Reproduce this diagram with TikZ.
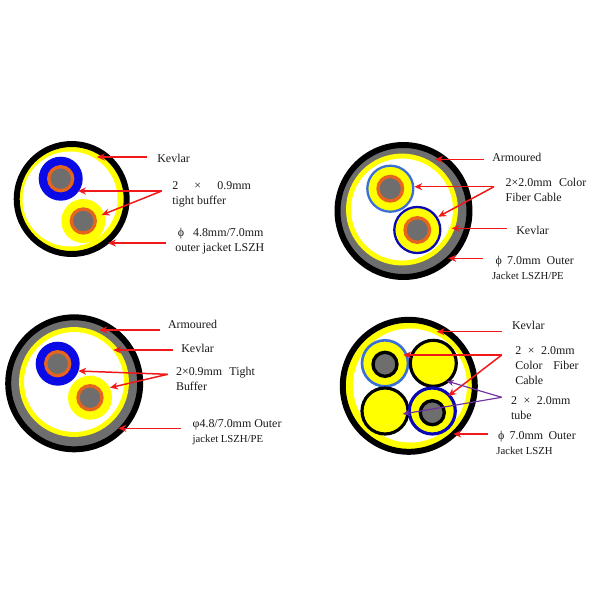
\documentclass[tikz,border=0pt]{standalone}
\usepackage{fontspec}
\setmainfont{Liberation Serif}
\usetikzlibrary{arrows.meta}
\definecolor{bred}{HTML}{F01818}
\definecolor{bpurp}{HTML}{7030A0}
\definecolor{bblue}{HTML}{0A0AE6}
\definecolor{bnavy}{HTML}{0808B4}
\definecolor{bsky}{HTML}{3A6FD8}
\definecolor{borange}{HTML}{E5641E}
\definecolor{bgray}{HTML}{6E6E6E}
\definecolor{byellow}{HTML}{FFFF00}
\newcommand{\narrowtext}{\fontsize{6.1}{8.6}\selectfont}
\tikzstyle{label} = [anchor=west, inner sep=0, align=left, font=\fontsize{6.8}{8.6}\selectfont, text=black!90]
\tikzstyle{arrow} = [draw=bred, line width=0.85pt, -{Stealth[length=4.5pt, width=4pt]}]
\tikzstyle{tubearrow} = [draw=bpurp, line width=0.65pt, -{Stealth[length=4pt, width=3.5pt]}]
\tikzstyle{jacket} = [draw=black, line width=3.4pt]
\tikzstyle{kevlar} = [draw=byellow, line width=2.8pt, fill=white]
\tikzstyle{core} = [draw=borange, fill=bgray, line width=1.9pt]
\tikzstyle{fibercore} = [draw=black, fill=bgray, line width=1.9pt]
\begin{document}
\begin{tikzpicture}[x=0.02cm, y=-0.02cm]
\useasboundingbox (0, 0) rectangle (600, 600);
\fill[white] (0, 0) rectangle (600, 600);

%% top left: two tight buffers
\draw[jacket, fill=byellow] (71.7, 199) circle (55);
\fill[white] (70, 199) circle (47.5);
\fill[bblue] (60.7, 178.7) circle (22);
\draw[core] (60.7, 178.7) circle (12);
\fill[byellow] (83.3, 221) circle (22);
\draw[core] (83.3, 221) circle (12);

\node[label] at (157, 158.5) (kevlarone) {Kevlar};
\coordinate (kevlaronefrom) at (147, 157);
\coordinate (kevlaroneto) at (97, 157);
\path[arrow] (kevlaronefrom) -- (kevlaroneto);

\node[label] at (172, 194) (bufferone) {2\hspace{1.35em}×\hspace{1.35em}0.9mm\\tight buffer};
\coordinate (bufferonefrom) at (161.7, 191);
\coordinate (bufferonea) at (78, 191);
\coordinate (bufferoneb) at (101.7, 215);
\path[arrow] (bufferonefrom) -- (bufferonea);
\path[arrow] (bufferonefrom) -- (bufferoneb);

\node[label] at (175, 241.5) (jacketone) {\hspace{1.5pt}ϕ\hspace{5pt}4.8mm/7.0mm\\outer jacket LSZH};
\coordinate (jacketonefrom) at (166, 243);
\coordinate (jacketoneto) at (108, 243);
\path[arrow] (jacketonefrom) -- (jacketoneto);

%% top right: two color fiber cables
\draw[jacket, fill=bgray] (403.5, 211) circle (66);
\draw[kevlar] (402, 209.5) circle (53.5);
\draw[bsky, line width=1.3pt, fill=byellow] (390.3, 188.7) circle (23);
\draw[core] (390.3, 188.7) circle (12.3);
\draw[bnavy, line width=1.3pt, fill=byellow] (417.3, 230) circle (23);
\draw[core] (417.3, 230) circle (12.3);

\node[label] at (492, 157.5) (armourtwo) {Armoured};
\coordinate (armourtwofrom) at (484, 159.3);
\coordinate (armourtwoto) at (435, 159.3);
\path[arrow] (armourtwofrom) -- (armourtwoto);

\node[label] at (505.3, 190) (fibertwo) {2×2.0mm\hspace{0.6em}Color\\Fiber Cable};
\coordinate (fibertwofrom) at (494, 186.7);
\coordinate (fibertwoa) at (414.3, 186.7);
\coordinate (fibertwob) at (438.3, 216.7);
\path[arrow] (fibertwofrom) -- (fibertwoa);
\path[arrow] (fibertwofrom) -- (fibertwob);

\node[label] at (516, 230) (kevlartwo) {Kevlar};
\coordinate (kevlartwofrom) at (506.7, 228.3);
\coordinate (kevlartwoto) at (451.7, 228.3);
\path[arrow] (kevlartwofrom) -- (kevlartwoto);

\node[label] at (491.7, 268) (jackettwo) {\hspace{2pt}ϕ\hspace{0.45em}7.0mm\hspace{0.5em}Outer\\{\narrowtext Jacket LSZH/PE}};
\coordinate (jackettwofrom) at (482.7, 258.3);
\coordinate (jackettwoto) at (448.3, 258.3);
\path[arrow] (jackettwofrom) -- (jackettwoto);

%% bottom left: armoured tight buffers
\draw[jacket, fill=bgray] (74.2, 383.3) circle (66);
\draw[kevlar] (74, 382) circle (52.5);
\fill[bblue] (57.7, 363.7) circle (22);
\draw[core] (57.7, 363.7) circle (12);
\fill[byellow] (90, 397.7) circle (22);
\draw[core] (90, 397.7) circle (12);

\node[label] at (167.7, 324) (armourthree) {Armoured};
\coordinate (armourthreefrom) at (160, 330);
\coordinate (armourthreeto) at (99.3, 330);
\path[arrow] (armourthreefrom) -- (armourthreeto);

\node[label] at (181, 348.3) (kevlarthree) {Kevlar};
\coordinate (kevlarthreefrom) at (173.3, 350);
\coordinate (kevlarthreeto) at (113.3, 350);
\path[arrow] (kevlarthreefrom) -- (kevlarthreeto);

\node[label] at (175.7, 379) (bufferthree) {2×0.9mm\hspace{0.6em}Tight\\Buffer};
\coordinate (bufferthreefrom) at (167.7, 374.3);
\coordinate (bufferthreea) at (78.3, 371);
\coordinate (bufferthreeb) at (110, 387.7);
\path[arrow] (bufferthreefrom) -- (bufferthreea);
\path[arrow] (bufferthreefrom) -- (bufferthreeb);

\node[label] at (192.3, 432.5) (jacketthree) {φ4.8/7.0mm Outer\\{\narrowtext jacket LSZH/PE}};
\coordinate (jacketthreefrom) at (181, 428.3);
\coordinate (jacketthreeto) at (118.3, 428.3);
\path[arrow] (jacketthreefrom) -- (jacketthreeto);

%% bottom right: fibers and tubes
\draw[jacket, fill=byellow] (408.8, 385.8) circle (66);
\fill[white] (410, 385.5) circle (57);
\draw[bsky, line width=1.5pt, fill=byellow] (385, 363.3) circle (23);
\draw[fibercore] (385, 364.3) circle (12);
\draw[black, line width=1.8pt, fill=byellow] (433.3, 363.3) circle (23);
\draw[black, line width=1.8pt, fill=byellow] (385, 411) circle (23);
\draw[bnavy, line width=1.8pt, fill=byellow] (432.3, 411) circle (23);
\draw[fibercore] (432.3, 412.7) circle (12);

\node[label] at (511.7, 325) (kevlarfour) {Kevlar};
\coordinate (kevlarfourfrom) at (501.7, 331.7);
\coordinate (kevlarfourto) at (436.7, 331.7);
\path[arrow] (kevlarfourfrom) -- (kevlarfourto);

\node[label] at (515, 365.5) (fiberfour) {2\hspace{0.55em}×\hspace{0.55em}2.0mm\\Color\hspace{0.9em}Fiber\\Cable};
\coordinate (fiberfourfrom) at (501.7, 355);
\coordinate (fiberfoura) at (403.3, 355);
\coordinate (fiberfourb) at (448.3, 396);
\path[arrow] (fiberfourfrom) -- (fiberfoura);
\path[arrow] (fiberfourfrom) -- (fiberfourb);

\node[label] at (510.7, 408.5) (tubefour) {2\hspace{0.55em}×\hspace{0.55em}2.0mm\\tube};
\coordinate (tubefourfrom) at (501.7, 397.3);
\coordinate (tubefoura) at (446.7, 381);
\coordinate (tubefourb) at (402.7, 414);
\path[tubearrow] (tubefourfrom) -- (tubefoura);
\path[tubearrow] (tubefourfrom) -- (tubefourb);

\node[label] at (496, 442.5) (jacketfour) {\hspace{1pt}ϕ\hspace{3pt}7.0mm\hspace{0.45em}Outer\\{\narrowtext Jacket LSZH}};
\coordinate (jacketfourfrom) at (487.7, 434);
\coordinate (jacketfourto) at (453.3, 434);
\path[arrow] (jacketfourfrom) -- (jacketfourto);

\end{tikzpicture}
\end{document}
